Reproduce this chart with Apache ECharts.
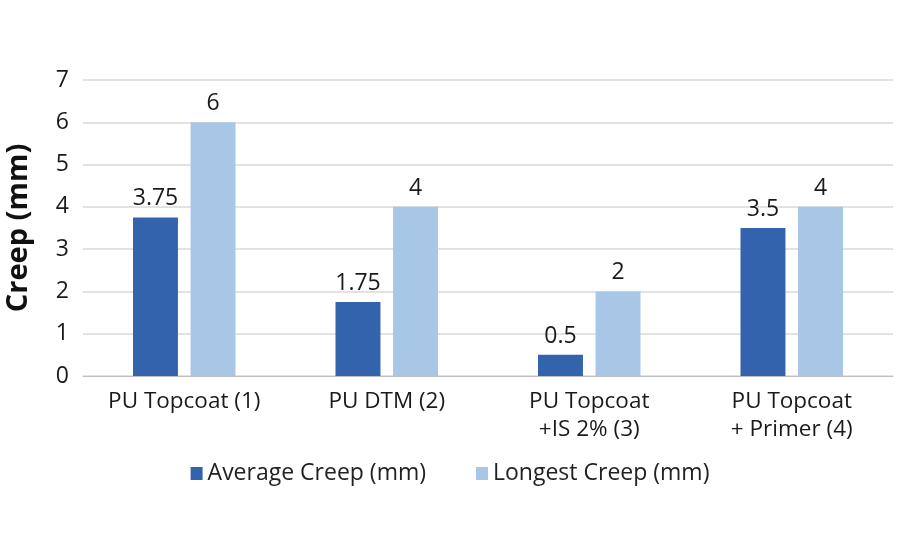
<!DOCTYPE html>
<html><head><meta charset="utf-8">
<script src="https://cdn.jsdelivr.net/npm/echarts@6/dist/echarts.min.js"></script>
<style>html,body{margin:0;padding:0;background:#fff}#c{width:900px;height:550px}</style>
</head><body><div id="c"></div>
<script>
const categories = ['PU Topcoat (1)', 'PU DTM (2)', 'PU Topcoat\n+IS 2% (3)', 'PU Topcoat\n+ Primer (4)'];
const averageCreep = [3.75, 1.75, 0.5, 3.5];
const longestCreep = [6, 4, 2, 4];
const seriesNames = ['Average Creep (mm)', 'Longest Creep (mm)'];
const yTicks = [0, 1, 2, 3, 4, 5, 6, 7];

const font = 'Open Sans';
const chart = echarts.init(document.getElementById('c'));
chart.setOption({
  animation: false,
  textStyle: { fontFamily: font },
  grid: { left: 83, right: 7, top: 80, bottom: 174, containLabel: false, outerBoundsMode: 'none' },
  legend: {
    bottom: 60, left: 'center', itemWidth: 12, itemHeight: 13, itemGap: 50,
    icon: 'rect',
    textStyle: { fontFamily: font, fontSize: 23, color: '#222' },
    data: seriesNames
  },
  xAxis: {
    type: 'category', data: categories,
    axisLine: { lineStyle: { color: '#bfbfbf', width: 1 } },
    axisTick: { show: false },
    axisLabel: { fontFamily: font, fontSize: 22.5, color: '#1a1a1a', margin: 12, lineHeight: 28 }
  },
  yAxis: {
    type: 'value', min: yTicks[0], max: yTicks[yTicks.length - 1], interval: 1,
    name: 'Creep (mm)', nameLocation: 'middle', nameGap: 50, nameMoveOverlap: false,
    nameTextStyle: { fontFamily: font, fontSize: 29, fontWeight: 'bold', color: '#111' },
    axisLine: { show: false }, axisTick: { show: false },
    axisLabel: { fontFamily: font, fontSize: 23, color: '#1a1a1a', margin: 14 },
    splitLine: { lineStyle: { color: '#d9d9d9', width: 1.5 } }
  },
  series: [
    { name: seriesNames[0], type: 'bar', data: averageCreep, barWidth: '22.2%', barGap: '28%',
      itemStyle: { color: '#3463AE' },
      label: { show: true, position: 'top', distance: 7, fontFamily: font, fontSize: 23, color: '#1a1a1a' } },
    { name: seriesNames[1], type: 'bar', data: longestCreep, barWidth: '22.2%',
      itemStyle: { color: '#A8C6E6' },
      label: { show: true, position: 'top', distance: 7, fontFamily: font, fontSize: 23, color: '#1a1a1a' } }
  ]
});
</script></body></html>
